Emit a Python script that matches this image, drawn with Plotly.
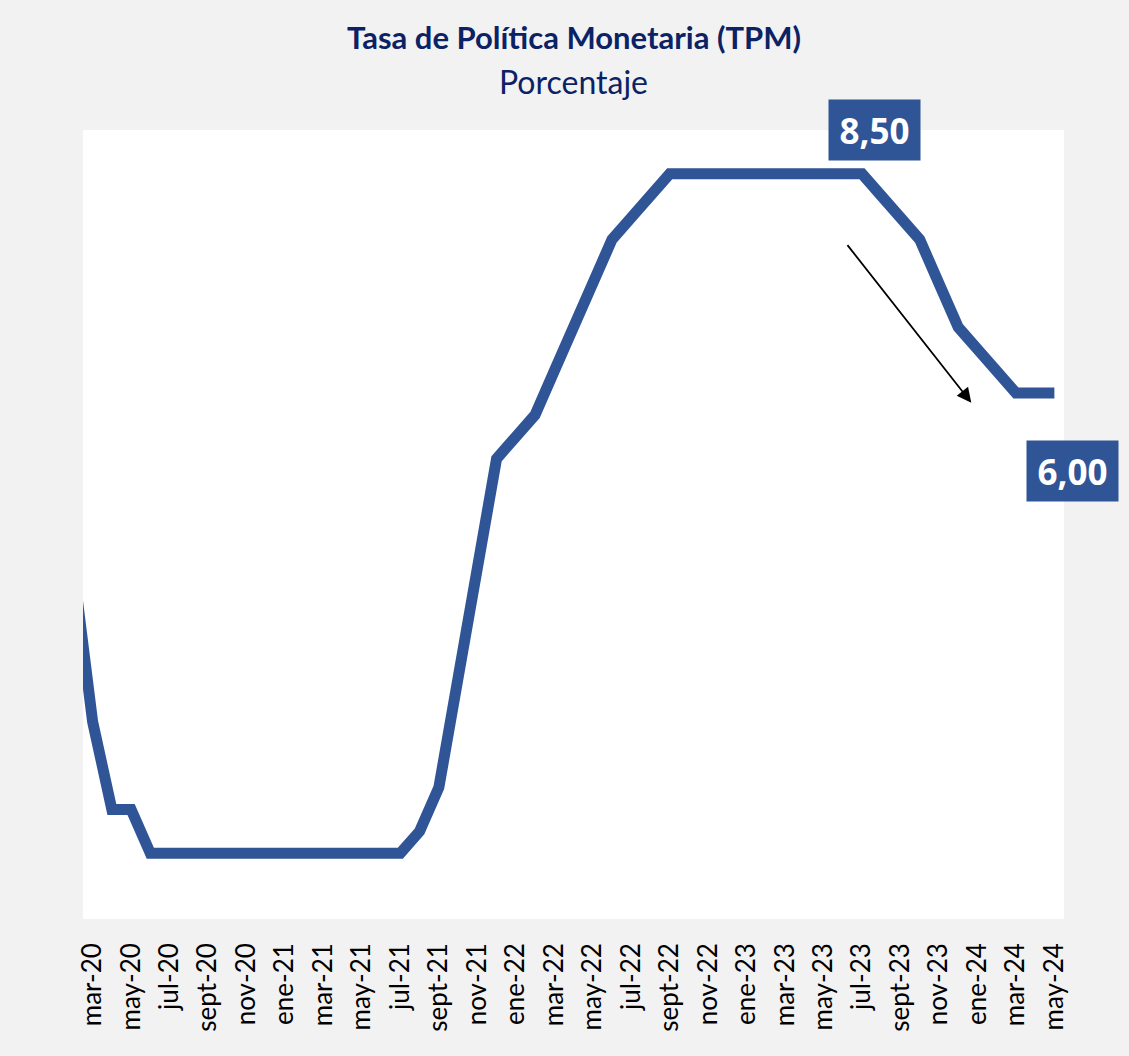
import plotly.graph_objects as go

# Monthly policy rate, feb-20 .. may-24 (feb-20 lies just outside the visible range)
months = [
    "feb-20", "mar-20", "abr-20", "may-20", "jun-20", "jul-20", "ago-20", "sept-20", "oct-20", "nov-20", "dic-20",
    "ene-21", "feb-21", "mar-21", "abr-21", "may-21", "jun-21", "jul-21", "ago-21", "sept-21", "oct-21", "nov-21", "dic-21",
    "ene-22", "feb-22", "mar-22", "abr-22", "may-22", "jun-22", "jul-22", "ago-22", "sept-22", "oct-22", "nov-22", "dic-22",
    "ene-23", "feb-23", "mar-23", "abr-23", "may-23", "jun-23", "jul-23", "ago-23", "sept-23", "oct-23", "nov-23", "dic-23",
    "ene-24", "feb-24", "mar-24", "abr-24", "may-24",
]
tpm = [
    4.00, 2.25, 1.25, 1.25, 0.75, 0.75, 0.75, 0.75, 0.75, 0.75, 0.75,
    0.75, 0.75, 0.75, 0.75, 0.75, 0.75, 0.75, 1.00, 1.50, 2.75, 4.00, 5.25,
    5.50, 5.75, 6.25, 6.75, 7.25, 7.75, 8.00, 8.25, 8.50, 8.50, 8.50, 8.50,
    8.50, 8.50, 8.50, 8.50, 8.50, 8.50, 8.50, 8.25, 8.00, 7.75, 7.25, 6.75,
    6.50, 6.25, 6.00, 6.00, 6.00,
]
tick_labels = [
    "mar-20", "may-20", "jul-20", "sept-20", "nov-20", "ene-21", "mar-21", "may-21", "jul-21", "sept-21",
    "nov-21", "ene-22", "mar-22", "may-22", "jul-22", "sept-22", "nov-22", "ene-23", "mar-23", "may-23",
    "jul-23", "sept-23", "nov-23", "ene-24", "mar-24", "may-24",
]
peak_label = ("jul-23", 8.50, "8,50")
last_label = ("may-24", 6.00, "6,00")

LINE = "#2f5597"
NAVY = "#0b2265"
BG = "#f2f2f2"

fig = go.Figure()
fig.add_trace(go.Scatter(
    x=months, y=tpm, mode="lines",
    line=dict(color=LINE, width=11),
    hoverinfo="x+y", showlegend=False,
))

fig.update_layout(
    width=1129, height=1056,
    paper_bgcolor=BG, plot_bgcolor="white",
    margin=dict(l=83, r=65, t=130, b=137),
    showlegend=False,
    xaxis=dict(
        type="category", categoryorder="array", categoryarray=months,
        range=[0.5, len(months) - 0.5],
        tickmode="array", tickvals=tick_labels, ticktext=tick_labels,
        tickangle=-90, showgrid=False, zeroline=False, showline=False,
        ticks="", ticklabelstandoff=18,
        tickfont=dict(family="Lato, 'Noto Sans', sans-serif", size=26, color="black"),
    ),
    yaxis=dict(
        range=[0, 9.0], showgrid=False, zeroline=False, showline=False,
        showticklabels=False, ticks="",
    ),
)

annotations = [
    dict(text="<b>Tasa de Política Monetaria (TPM)</b>", xref="paper", yref="paper",
         x=0.5, y=1, yshift=93, xanchor="center", yanchor="middle", showarrow=False,
         font=dict(family="Lato, 'Noto Sans', sans-serif", size=31, color=NAVY)),
    dict(text="Porcentaje", xref="paper", yref="paper",
         x=0.5, y=1, yshift=49, xanchor="center", yanchor="middle", showarrow=False,
         font=dict(family="Lato, 'Noto Sans', sans-serif", size=32, color=NAVY)),
]
for (mx, val, txt), (dx, dy) in [(peak_label, (12, 44)), (last_label, (18, -78))]:
    annotations.append(dict(
        x=mx, y=val, xref="x", yref="y", text=f"<b>{txt}</b>", showarrow=False,
        xshift=dx, yshift=dy, xanchor="center", yanchor="middle",
        width=91, height=60, bgcolor=LINE, borderpad=0,
        font=dict(family="'Open Sans', 'Noto Sans', sans-serif", size=35, color="white"),
    ))
# Trend arrow
annotations.append(dict(
    x=months.index("dic-23") + 0.68, y=5.89, xref="x", yref="y", text="",
    showarrow=True, ax=-125, ay=-159, axref="pixel", ayref="pixel",
    arrowhead=2, arrowsize=1.6, arrowwidth=1.8, arrowcolor="black",
))
fig.update_layout(annotations=annotations)

fig.write_html(
    "out.html",
    config={"displayModeBar": False},
    post_script="document.body.style.margin='0';document.body.style.background='%s';" % BG,
)
